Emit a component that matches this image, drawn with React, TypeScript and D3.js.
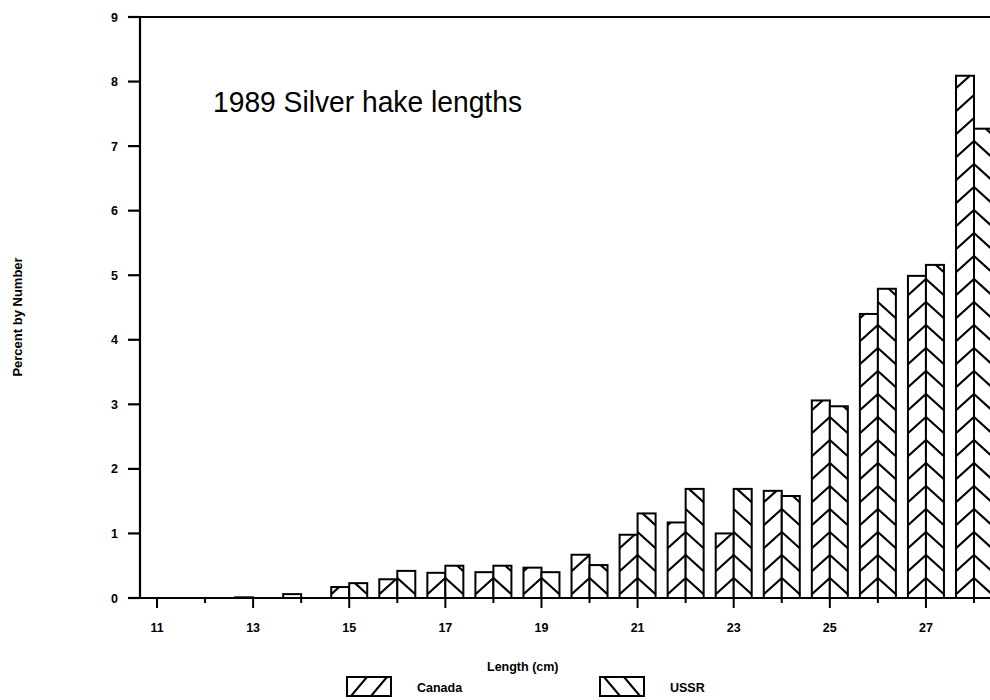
import * as d3 from "d3";
import { useEffect, useRef } from "react";

const width = 990;
const height = 700;

const lengths = [11, 12, 13, 14, 15, 16, 17, 18, 19, 20, 21, 22, 23, 24, 25, 26, 27, 28];
const canada = [0, 0, 0.01, 0.06, 0.17, 0.29, 0.39, 0.4, 0.47, 0.67, 0.98, 1.17, 1.0, 1.66, 3.06, 4.4, 4.99, 8.09];
const ussr = [0, 0, 0, 0, 0.23, 0.42, 0.5, 0.5, 0.4, 0.51, 1.31, 1.69, 1.69, 1.58, 2.97, 4.79, 5.16, 7.27];
const yTicks = [0, 1, 2, 3, 4, 5, 6, 7, 8, 9];
const xLabelTicks = [11, 13, 15, 17, 19, 21, 23, 25, 27];

const font = "'Liberation Sans', Arial, sans-serif";
const barW = 18;
const hatchGap = 23;
const hatchSlope = 0.9;

type Seg = { x1: number; y1: number; x2: number; y2: number };

// hatch lines for one bar, side -1 = left of tick (Canada), +1 = right (USSR)
const hatch = (x0: number, side: number, top: number, base: number): Seg[] => {
  const segs: Seg[] = [];
  for (let k = 0; ; k++) {
    const yv = base - 20 - k * hatchGap;
    if (yv + barW * hatchSlope < top) break;
    const tMin = Math.max(0, (top - yv) / hatchSlope);
    const tMax = Math.min(barW, (base - yv) / hatchSlope);
    if (tMin >= tMax) continue;
    segs.push({
      x1: x0 + side * tMin,
      y1: yv + tMin * hatchSlope,
      x2: x0 + side * tMax,
      y2: yv + tMax * hatchSlope,
    });
  }
  return segs;
};

const App = () => {
  const svgRef = useRef<SVGSVGElement | null>(null);

  useEffect(() => {
    const svg = d3.select(svgRef.current);
    svg.selectAll("*").remove();

    const x = d3.scaleLinear().domain([11, 28]).range([157, 974]);
    const y = d3.scaleLinear().domain([0, 9]).range([598, 17]);
    const base = y(0);

    const g = svg.append("g").attr("fill", "none").attr("stroke", "#000");

    // bars + hatching
    const series = [
      { values: canada, side: -1 },
      { values: ussr, side: 1 },
    ];
    series.forEach((s) => {
      lengths.forEach((len, i) => {
        const v = s.values[i];
        if (v <= 0) return;
        const x0 = x(len);
        const top = y(v);
        g.append("rect")
          .attr("x", s.side < 0 ? x0 - barW : x0)
          .attr("y", top)
          .attr("width", barW)
          .attr("height", base - top)
          .attr("fill", "#fff")
          .attr("stroke-width", 2);
        g.selectAll(null)
          .data(hatch(x0, s.side, top, base))
          .join("line")
          .attr("x1", (d) => d.x1)
          .attr("y1", (d) => d.y1)
          .attr("x2", (d) => d.x2)
          .attr("y2", (d) => d.y2)
          .attr("stroke-width", 2.2);
      });
    });

    // axes
    g.append("line").attr("x1", 128).attr("x2", width).attr("y1", base).attr("y2", base).attr("stroke-width", 2.2);
    g.append("line").attr("x1", 128).attr("x2", width).attr("y1", y(9)).attr("y2", y(9)).attr("stroke-width", 2.2);
    g.append("line").attr("x1", 140).attr("x2", 140).attr("y1", y(9)).attr("y2", base).attr("stroke-width", 2.2);

    g.selectAll(null)
      .data(yTicks)
      .join("line")
      .attr("x1", 128)
      .attr("x2", 140)
      .attr("y1", (d) => y(d))
      .attr("y2", (d) => y(d))
      .attr("stroke-width", 2.2);

    g.selectAll(null)
      .data(lengths)
      .join("line")
      .attr("x1", (d) => x(d))
      .attr("x2", (d) => x(d))
      .attr("y1", base)
      .attr("y2", (d) => (d % 2 === 1 ? base + 10 : base + 5))
      .attr("stroke-width", 2);

    const t = svg.append("g").attr("font-family", font).attr("fill", "#000");

    t.selectAll(null)
      .data(yTicks)
      .join("text")
      .attr("x", 118)
      .attr("y", (d) => y(d) + 4.5)
      .attr("text-anchor", "end")
      .attr("font-size", 12.5)
      .attr("font-weight", "bold")
      .text((d) => d);

    t.selectAll(null)
      .data(xLabelTicks)
      .join("text")
      .attr("x", (d) => x(d))
      .attr("y", 632)
      .attr("text-anchor", "middle")
      .attr("font-size", 12.5)
      .attr("font-weight", "bold")
      .text((d) => d);

    t.append("text")
      .attr("x", 213)
      .attr("y", 112)
      .attr("font-size", 30)
      .attr("textLength", 309)
      .attr("lengthAdjust", "spacingAndGlyphs")
      .text("1989 Silver hake lengths");

    t.append("text")
      .attr("x", 487)
      .attr("y", 671)
      .attr("font-size", 12.5)
      .attr("font-weight", "bold")
      .text("Length (cm)");

    t.append("text")
      .attr("transform", "translate(22,317) rotate(-90)")
      .attr("text-anchor", "middle")
      .attr("font-size", 13)
      .attr("font-weight", "bold")
      .text("Percent by Number");

    // legend
    const legend = [
      { name: "Canada", side: -1, bx: 347, tx: 417 },
      { name: "USSR", side: 1, bx: 600, tx: 670 },
    ];
    legend.forEach((l) => {
      const lg = svg.append("g");
      lg.append("rect")
        .attr("x", l.bx)
        .attr("y", 677)
        .attr("width", 44)
        .attr("height", 19)
        .attr("fill", "#fff")
        .attr("stroke", "#000")
        .attr("stroke-width", 2);
      [0, 20].forEach((off) => {
        const xa = l.bx + 4 + off;
        lg.append("line")
          .attr("x1", xa)
          .attr("y1", l.side < 0 ? 696 : 677)
          .attr("x2", xa + 16)
          .attr("y2", l.side < 0 ? 677 : 696)
          .attr("stroke", "#000")
          .attr("stroke-width", 2);
      });
      lg.append("text")
        .attr("x", l.tx)
        .attr("y", 692)
        .attr("font-family", font)
        .attr("font-size", 12.5)
        .attr("font-weight", "bold")
        .text(l.name);
    });
  }, []);

  return (
    <svg
      ref={svgRef}
      width={width}
      height={height}
      style={{ position: "absolute", left: 0, top: 0, background: "#fff" }}
    />
  );
};

export default App;
